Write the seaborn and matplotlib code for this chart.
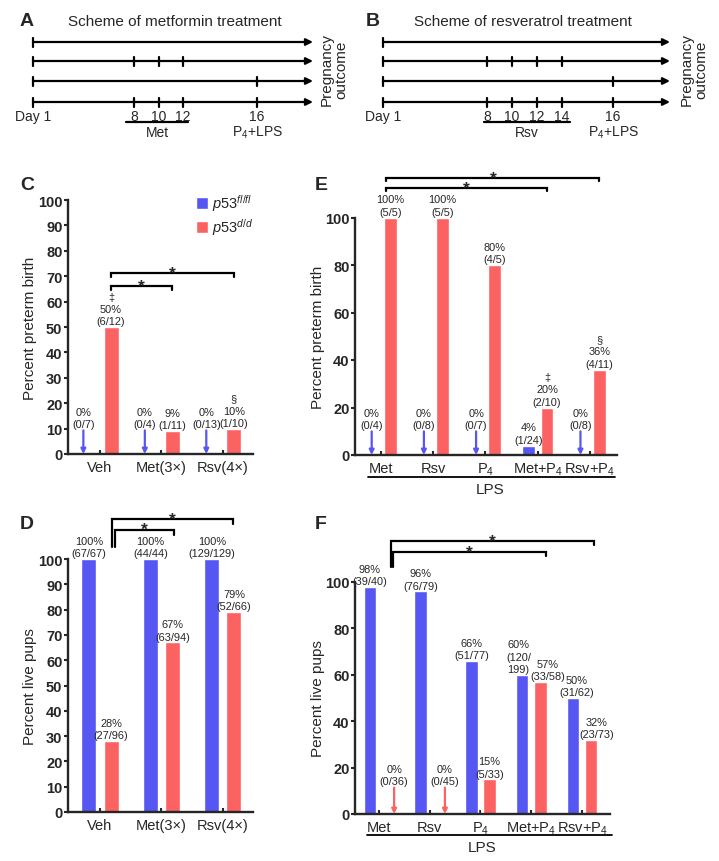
import numpy as np
import pandas as pd
import matplotlib
matplotlib.use('Agg')
import matplotlib.pyplot as plt
import seaborn as sns
from matplotlib.patches import Patch

# ---------------- data ----------------
genotypes = ['fl/fl', 'd/d']
legend_labels = [r'$\mathit{p53}^{\mathit{fl/fl}}$', r'$\mathit{p53}^{\mathit{d/d}}$']

c_groups = ['Veh', 'Met(3×)', 'Rsv(4×)']
c_fl = [0, 0, 0]
c_dd = [50, 9, 10]
c_fl_n = ['0/7', '0/4', '0/13']
c_dd_n = ['6/12', '1/11', '1/10']
c_dd_mark = ['‡', '', '§']

d_groups = ['Veh', 'Met(3×)', 'Rsv(4×)']
d_fl = [100, 100, 100]
d_dd = [28, 67, 79]
d_fl_n = ['67/67', '44/44', '129/129']
d_dd_n = ['27/96', '63/94', '52/66']

e_groups = ['Met', 'Rsv', 'P$_4$', 'Met+P$_4$', 'Rsv+P$_4$']
e_fl = [0, 0, 0, 4, 0]
e_dd = [100, 100, 80, 20, 36]
e_fl_n = ['0/4', '0/8', '0/7', '1/24', '0/8']
e_dd_n = ['5/5', '5/5', '4/5', '2/10', '4/11']
e_dd_mark = ['', '', '', '‡', '§']

f_groups = ['Met', 'Rsv', 'P$_4$', 'Met+P$_4$', 'Rsv+P$_4$']
f_fl = [98, 96, 66, 60, 50]
f_dd = [0, 0, 15, 57, 32]
f_fl_n = ['39/40', '76/79', '51/77', '120/\n199', '31/62']
f_dd_n = ['0/36', '0/45', '5/33', '33/58', '23/73']

met_days = ['8', '10', '12']
rsv_days = ['8', '10', '12', '14']
lps_day = '16'

# ---------------- style ----------------
sns.set_style('ticks')
plt.rcParams['font.family'] = ['Liberation Sans', 'DejaVu Sans']
plt.rcParams['mathtext.fontset'] = 'custom'
plt.rcParams['mathtext.rm'] = 'Liberation Sans'
plt.rcParams['mathtext.it'] = 'Liberation Sans:italic'
plt.rcParams['mathtext.bf'] = 'Liberation Sans:bold'

BLUE = '#5656F2'
RED = '#FD6262'
W, H = 719, 862
ANN_FS = 7.9
ANN_LS = 1.3

fig = plt.figure(figsize=(W / 100, H / 100), dpi=100)

def px_axes(l, r, t, b):
    return fig.add_axes([l / W, 1 - b / H, (r - l) / W, (b - t) / H])

# ---------------- overlay for schemes and letters ----------------
ov = fig.add_axes([0, 0, 1, 1])
ov.set_xlim(0, W)
ov.set_ylim(H, 0)
ov.axis('off')
ov.patch.set_visible(False)

def scheme(x0, x1, drug_x, lps_x, days, drug, span, letter, lx, title, tx, outx):
    rows = [43, 62, 82, 103]
    ov.text(lx, 22, letter, fontsize=14, fontweight='heavy', ha='center', va='center')
    ov.text(tx, 22, title, fontsize=11, ha='center', va='center')
    ticks = [[], drug_x, [lps_x], drug_x + [lps_x]]
    for y, tk in zip(rows, ticks):
        ov.annotate('', xy=(x1, y), xytext=(x0, y),
                    arrowprops=dict(arrowstyle='-|>', lw=1.6, color='k',
                                    mutation_scale=10, shrinkA=0, shrinkB=0))
        ov.plot([x0, x0], [y - 4.5, y + 4.5], color='k', lw=1.6)
        for x in tk:
            ov.plot([x, x], [y - 4.5, y + 4.5], color='k', lw=1.6)
    ov.text(x0, 117, 'Day 1', fontsize=10, ha='center', va='center')
    for x, d in zip(drug_x, days):
        ov.text(x, 117, d, fontsize=10, ha='center', va='center')
    ov.text(lps_x, 117, lps_day, fontsize=10, ha='center', va='center')
    ov.plot(span, [123, 123], color='k', lw=1.6)
    ov.text(sum(span) / 2, 133, drug, fontsize=10, ha='center', va='center')
    ov.text(lps_x, 133, 'P$_4$+LPS', fontsize=10, ha='center', va='center')
    ov.text(outx, 70, 'Pregnancy\noutcome', rotation=90, fontsize=11,
            ha='center', va='center', linespacing=1.0)

scheme(33, 313, [134, 159, 183], 257, met_days, 'Met', [126, 188], 'A', 27,
       'Scheme of metformin treatment', 175, 334)
scheme(383, 670, [487, 512, 537, 562], 613, rsv_days, 'Rsv', [484, 570], 'B', 373,
       'Scheme of resveratrol treatment', 523, 694)

for letter, x, y in [('C', 27, 185), ('E', 321, 185), ('D', 27, 525), ('F', 321, 525)]:
    ov.text(x, y, letter, fontsize=14, fontweight='heavy', ha='center', va='center')

# ---------------- bar panels ----------------
def bar_panel(ax, groups, fl, dd, xlim, ylabel, yticks, ylab_x):
    n = len(groups)
    df = pd.DataFrame({'group': groups * 2,
                       'genotype': [genotypes[0]] * n + [genotypes[1]] * n,
                       'value': fl + dd})
    sns.barplot(data=df, x='group', y='value', hue='genotype', order=groups,
                hue_order=genotypes, palette=[BLUE, RED], width=0.72, gap=0.32,
                saturation=1, errorbar=None, legend=False, ax=ax)
    centers = sorted(p.get_x() + p.get_width() / 2 for p in ax.patches)
    fl_x, dd_x = centers[0::2], centers[1::2]
    ax.set_xlim(*xlim)
    ax.set_ylim(0, 100)
    ax.set_yticks(yticks)
    sns.despine(ax=ax)
    for s in ['left', 'bottom']:
        ax.spines[s].set_linewidth(1.7)
    ax.tick_params(axis='y', direction='out', length=3, width=1.5, labelsize=10.5, pad=1)
    ax.tick_params(axis='x', direction='in', length=3, width=1.5, labelsize=10.5, pad=4)
    for t in ax.get_yticklabels():
        t.set_fontweight('bold')
    ax.set_xlabel('')
    ax.set_ylabel(ylabel, fontsize=11)
    ax.yaxis.set_label_coords(ylab_x, 0.5)
    return fl_x, dd_x

def label(ax, x, y, txt, dx=0):
    ax.annotate(txt, xy=(x, y), xytext=(dx, 0.5), textcoords='offset points',
                ha='center', va='bottom', fontsize=ANN_FS, linespacing=ANN_LS,
                annotation_clip=False)

def zero_arrow(ax, x, color, txt, length=17):
    ax.annotate('', xy=(x, 0), xytext=(0, length), textcoords='offset points',
                arrowprops=dict(arrowstyle='-|>', color=color, lw=1.6,
                                mutation_scale=7, shrinkA=0, shrinkB=0),
                annotation_clip=False)
    ax.annotate(txt, xy=(x, 0), xytext=(0, length + 1), textcoords='offset points',
                ha='center', va='bottom', fontsize=ANN_FS, linespacing=ANN_LS,
                annotation_clip=False)

def bracket(ax, x1, x2, y, dl, dr):
    ax.plot([x1, x1, x2, x2], [y - dl, y, y, y - dr], color='k', lw=1.6,
            clip_on=False, solid_joinstyle='miter')
    ax.annotate('*', xy=((x1 + x2) / 2, y), xytext=(0, -3.2), textcoords='offset points',
                ha='center', va='baseline', fontsize=12.5, fontweight='bold',
                annotation_clip=False)

def pct(v, n, mark=''):
    s = f'{v}%\n({n})'
    return f'{mark}\n{s}' if mark else s

# ----- C -----
axC = px_axes(68, 253, 201, 455)
fl_x, dd_x = bar_panel(axC, c_groups, c_fl, c_dd, (-0.52, 2.49),
                       'Percent preterm birth', range(0, 101, 10), -0.168)
for i in range(len(c_groups)):
    zero_arrow(axC, fl_x[i] - 0.09, BLUE, pct(c_fl[i], c_fl_n[i]))
    label(axC, dd_x[i], c_dd[i], pct(c_dd[i], c_dd_n[i], c_dd_mark[i]))
bracket(axC, dd_x[0], dd_x[1], 66.1, 1.5, 1.5)
bracket(axC, dd_x[0], dd_x[2], 71.3, 1.5, 1.5)
axC.legend(handles=[Patch(fc=BLUE), Patch(fc=RED)], labels=legend_labels,
           loc='upper left', bbox_to_anchor=(0.69, 1.03), frameon=False, fontsize=10.5,
           handlelength=0.85, handleheight=0.9, handletextpad=0.3, labelspacing=0.2,
           borderaxespad=0, borderpad=0)

# ----- E -----
axE = px_axes(355, 617, 218.5, 456)
fl_x, dd_x = bar_panel(axE, e_groups, e_fl, e_dd, (-0.5, 4.52),
                       'Percent preterm birth', range(0, 101, 20), -0.115)
for i in range(len(e_groups)):
    if e_fl[i] == 0:
        zero_arrow(axE, fl_x[i], BLUE, pct(e_fl[i], e_fl_n[i]))
    else:
        label(axE, fl_x[i], e_fl[i], pct(e_fl[i], e_fl_n[i]))
    label(axE, dd_x[i], e_dd[i], pct(e_dd[i], e_dd_n[i], e_dd_mark[i]))
bracket(axE, dd_x[0] - 0.08, dd_x[3], 112.4, 1.3, 1.3)
bracket(axE, dd_x[0] - 0.08, dd_x[4], 116.6, 1.3, 1.3)
axE.plot([0.05, 0.992], [-0.093, -0.093], color='k', lw=1.3,
         transform=axE.transAxes, clip_on=False)
axE.text(0.515, -0.143, 'LPS', transform=axE.transAxes, ha='center', va='center',
         fontsize=11)

# ----- D -----
axD = px_axes(68, 253, 560, 813)
fl_x, dd_x = bar_panel(axD, d_groups, d_fl, d_dd, (-0.52, 2.49),
                       'Percent live pups', range(0, 101, 10), -0.168)
for i in range(len(d_groups)):
    label(axD, fl_x[i], d_fl[i], pct(d_fl[i], d_fl_n[i]))
    label(axD, dd_x[i], d_dd[i], pct(d_dd[i], d_dd_n[i]))
bracket(axD, dd_x[0] + 0.02, dd_x[2] - 0.02, 115.8, 11.1, 2.0)
bracket(axD, dd_x[0] + 0.07, dd_x[1] + 0.02, 111.6, 6.9, 2.0)

# ----- F -----
axF = px_axes(355, 610, 583, 815)
fl_x, dd_x = bar_panel(axF, f_groups, f_fl, f_dd, (-0.47, 4.55),
                       'Percent live pups', range(0, 101, 20), -0.118)
f_nudge_fl = [0, 0, 0, -2.5, 3]
f_nudge_dd = [0, 0, 0, 5, 4]
for i in range(len(f_groups)):
    label(axF, fl_x[i], f_fl[i], pct(f_fl[i], f_fl_n[i]), dx=f_nudge_fl[i])
    if f_dd[i] == 0:
        zero_arrow(axF, dd_x[i] + 0.12, RED, pct(f_dd[i], f_dd_n[i]), length=19)
    else:
        label(axF, dd_x[i], f_dd[i], pct(f_dd[i], f_dd_n[i]), dx=f_nudge_dd[i])
bracket(axF, dd_x[0] + 0.06, dd_x[4] + 0.06, 117.7, 11.2, 1.7)
bracket(axF, dd_x[0] + 0.10, dd_x[3] + 0.11, 112.9, 6.4, 1.7)
axF.plot([0.047, 1.008], [-0.09, -0.09], color='k', lw=1.3,
         transform=axF.transAxes, clip_on=False)
axF.text(0.50, -0.142, 'LPS', transform=axF.transAxes, ha='center', va='center',
         fontsize=11)

fig.savefig('out.png', dpi=100)
